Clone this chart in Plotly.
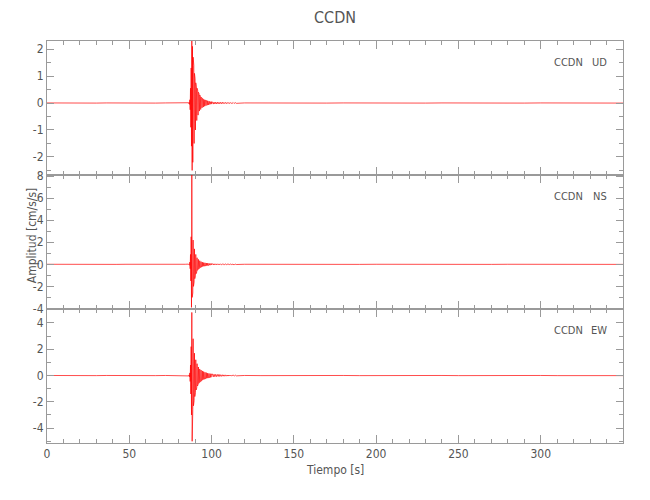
import plotly.graph_objects as go
from plotly.subplots import make_subplots

station = "CCDN"
components = ["UD", "NS", "EW"]

# sparse background noise (s, cm/s/s)
pre_t = [0, 6, 12, 18, 24, 30, 36, 42, 48, 54, 60, 66, 72, 78, 84]
post_t = [120, 130, 140, 150, 160, 170, 180, 190, 200, 210, 220, 230,
          240, 250, 260, 270, 280, 290, 300, 310, 320, 330, 340, 350]

pre_ud = [0.003, -0.003, 0.003, -0.003, 0.003, -0.003, 0.003, -0.003, 0.003, -0.003, 0.003, -0.003, 0.003, -0.003, 0.003]
pre_ns = [0.005, -0.005, 0.005, -0.005, 0.005, -0.005, 0.005, -0.005, 0.005, -0.005, 0.005, -0.005, 0.005, -0.005, 0.005]
pre_ew = [0.005, -0.005, 0.005, -0.005, 0.005, -0.005, 0.005, -0.005, 0.005, -0.005, 0.005, -0.005, 0.005, -0.005, 0.005]

post_ud = [0.003, -0.003] * 12
post_ns = [0.005, -0.005] * 12
post_ew = [0.005, -0.005] * 12

# strong motion window: samples every 0.2 s from 86.0 s to 100.0 s
event_start, event_dt = 86.0, 0.2
ud_event = [
    0.01, -0.02, 0.02, -0.05, 0.12, -0.25, 0.55, -0.9, 1.3, -1.6,
    2.35, -2.5, 2.1, -2.2, 1.7, -1.9, 1.4, -1.5, 1.1, -1.2,
    0.9, -1.0, 0.75, -0.8, 0.6, -0.65, 0.55, -0.5, 0.45, -0.45,
    0.4, -0.38, 0.35, -0.3, 0.3, -0.28, 0.25, -0.24, 0.22, -0.2,
    0.2, -0.18, 0.17, -0.16, 0.15, -0.15, 0.14, -0.13, 0.12, -0.12,
    0.11, -0.1, 0.1, -0.1, 0.09, -0.09, 0.08, -0.08, 0.08, -0.07,
    0.07, -0.07, 0.06, -0.06, 0.06, -0.05, 0.05, -0.05, 0.05, -0.04,
    0.04,
]
ns_event = [
    0.02, -0.03, 0.04, -0.08, 0.2, -0.4, 0.9, -1.5, 2.5, -3.9,
    8.6, -3.0, 3.0, -2.6, 2.2, -2.0, 1.7, -1.6, 1.4, -1.3,
    1.1, -1.0, 0.9, -0.85, 0.75, -0.7, 0.6, -0.55, 0.5, -0.48,
    0.45, -0.42, 0.4, -0.36, 0.33, -0.3, 0.28, -0.27, 0.25, -0.24,
    0.22, -0.21, 0.2, -0.19, 0.18, -0.17, 0.16, -0.16, 0.15, -0.14,
    0.14, -0.13, 0.13, -0.12, 0.12, -0.11, 0.11, -0.1, 0.1, -0.1,
    0.09, -0.09, 0.09, -0.08, 0.08, -0.08, 0.07, -0.07, 0.07, -0.06,
    0.06,
]
ew_event = [
    0.02, -0.03, 0.05, -0.1, 0.2, -0.45, 0.8, -1.4, 2.2, -3.0,
    4.8, -5.0, 3.3, -2.6, 2.8, -2.3, 2.0, -1.9, 1.7, -1.6,
    1.4, -1.3, 1.2, -1.1, 1.0, -0.95, 0.9, -0.8, 0.75, -0.7,
    0.65, -0.6, 0.6, -0.55, 0.5, -0.5, 0.45, -0.45, 0.42, -0.4,
    0.38, -0.36, 0.35, -0.33, 0.32, -0.3, 0.3, -0.28, 0.27, -0.26,
    0.25, -0.24, 0.23, -0.22, 0.22, -0.2, 0.2, -0.19, 0.18, -0.18,
    0.17, -0.16, 0.16, -0.15, 0.15, -0.14, 0.14, -0.13, 0.13, -0.12,
    0.12,
]

# coda: samples every 0.5 s from 100.5 s to 115.0 s
coda_start, coda_dt = 100.5, 0.5
ud_coda = [0.04, -0.04, 0.035, -0.035, 0.03, -0.035, 0.03, -0.03, 0.028, -0.03,
           0.025, -0.025, 0.03, -0.025, 0.022, -0.02, 0.02, -0.022, 0.02, -0.018,
           0.018, -0.02, 0.016, -0.015, 0.015, -0.016, 0.014, -0.012, 0.012, -0.012]
ns_coda = [0.06, -0.055, 0.05, -0.05, 0.045, -0.05, 0.045, -0.04, 0.04, -0.04,
           0.035, -0.035, 0.04, -0.03, 0.03, -0.03, 0.03, -0.028, 0.025, -0.025,
           0.025, -0.022, 0.022, -0.02, 0.02, -0.02, 0.018, -0.018, 0.016, -0.015]
ew_coda = [0.12, -0.1, 0.1, -0.09, 0.09, -0.08, 0.08, -0.07, 0.09, -0.07,
           0.06, -0.06, 0.06, -0.05, 0.05, -0.05, 0.05, -0.045, 0.04, -0.04,
           0.04, -0.035, 0.035, -0.03, 0.03, -0.03, 0.028, -0.025, 0.025, -0.022]

x_tickvals = [0, 50, 100, 150, 200, 250, 300]
y_ranges = [[-2.67, 2.3], [-4.05, 8.1], [-5.13, 5.06]]
y_tickvals = [[-2, -1, 0, 1, 2], [-4, -2, 0, 2, 4, 6, 8], [-4, -2, 0, 2, 4]]
y_ticktext = [["-2", "-1", "0", "1", "2"], ["-4", "-2", "0", "2", "4", "6", "8"],
              ["-4", "-2", "0", "2", "4"]]
y_minor = [0.5, 1, 1]

FONT = "DejaVu Sans Condensed, Liberation Sans Narrow, sans-serif"
TXT = "#555555"
AX = "#9a9a9a"
RED = "#ff0000"


def series(pre, ev, coda, post):
    t_ev = [round(event_start + i * event_dt, 2) for i in range(len(ev))]
    t_co = [round(coda_start + i * coda_dt, 2) for i in range(len(coda))]
    return pre_t + t_ev + t_co + post_t, pre + ev + coda + post


data = [
    series(pre_ud, ud_event, ud_coda, post_ud),
    series(pre_ns, ns_event, ns_coda, post_ns),
    series(pre_ew, ew_event, ew_coda, post_ew),
]

fig = make_subplots(rows=3, cols=1, shared_xaxes=True, vertical_spacing=0)

for i, (t, a) in enumerate(data):
    r = i + 1
    fig.add_trace(go.Scatter(x=t, y=a, mode="lines",
                             line=dict(color=RED, width=0.7),
                             hoverinfo="skip"), row=r, col=1)
    fig.update_yaxes(range=y_ranges[i], tickvals=y_tickvals[i], ticktext=y_ticktext[i],
                     ticks="inside", ticklen=7, tickcolor=AX, tickwidth=1,
                     showline=True, linecolor=AX, linewidth=1, mirror="ticks",
                     showgrid=False, zeroline=False, automargin=False,
                     minor=dict(dtick=y_minor[i], tick0=0, ticks="inside",
                                ticklen=4, tickcolor=AX, showgrid=False),
                     tickfont=dict(family=FONT, size=12, color=TXT),
                     row=r, col=1)
    fig.update_xaxes(range=[0, 350], tickvals=x_tickvals,
                     ticks="inside", ticklen=8, tickcolor=AX, tickwidth=1,
                     showline=True, linecolor=AX, linewidth=1, mirror="ticks",
                     showgrid=False, zeroline=False, automargin=False,
                     minor=dict(dtick=10, tick0=0, ticks="inside",
                                ticklen=4, tickcolor=AX, showgrid=False),
                     tickfont=dict(family=FONT, size=12, color=TXT),
                     showticklabels=(r == 3),
                     row=r, col=1)
    yref = "y domain" if r == 1 else f"y{r} domain"
    xref = "x domain" if r == 1 else f"x{r} domain"
    fig.add_annotation(text=station, x=0.9335, y=0.84, xref=xref, yref=yref,
                       xanchor="right", yanchor="middle", showarrow=False,
                       font=dict(family=FONT, size=11, color=TXT))
    fig.add_annotation(text=components[i], x=0.9752, y=0.84, xref=xref, yref=yref,
                       xanchor="right", yanchor="middle", showarrow=False,
                       font=dict(family=FONT, size=11, color=TXT))

fig.add_annotation(text="Tiempo [s]", x=0.5, y=-0.067, xref="paper", yref="paper",
                   xanchor="center", yanchor="middle", showarrow=False,
                   font=dict(family=FONT, size=12, color=TXT))
fig.add_annotation(text="Amplitud [cm/s/s]", x=-0.026, y=0.517, xref="paper", yref="paper",
                   xanchor="center", yanchor="middle", textangle=-90, showarrow=False,
                   font=dict(family=FONT, size=12, color=TXT))

fig.update_layout(
    width=650, height=500,
    margin=dict(l=39, r=35, t=33, b=65),
    paper_bgcolor="white", plot_bgcolor="white",
    showlegend=False,
    title=dict(text=station, x=0.5, xref="paper", xanchor="center",
               y=0.982, yref="container", yanchor="middle",
               font=dict(family=FONT, size=16, color=TXT)),
)

fig.write_html("out.html")
